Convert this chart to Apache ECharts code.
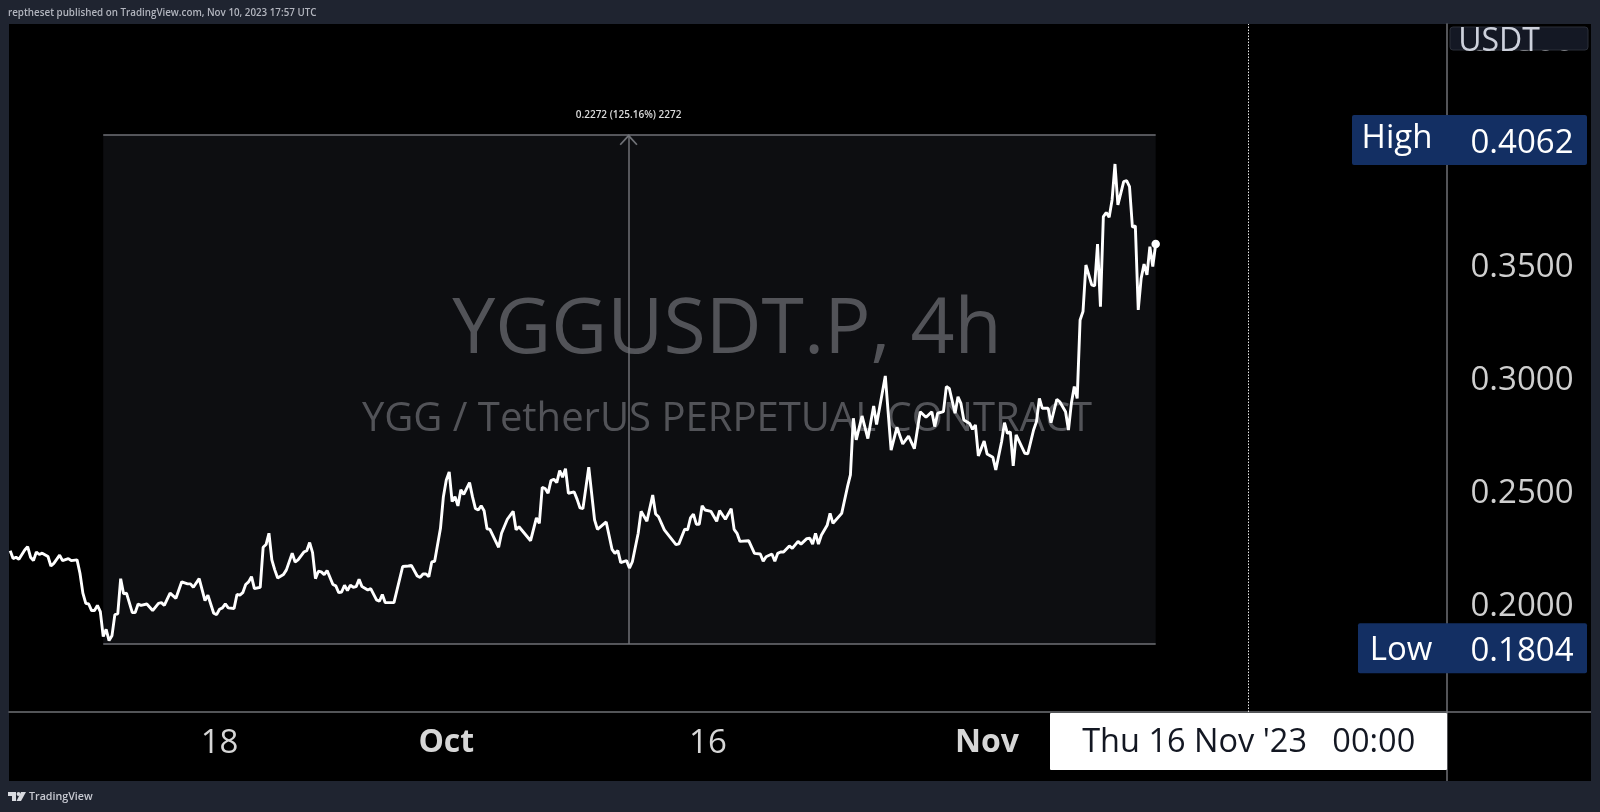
<!DOCTYPE html>
<html><head><meta charset="utf-8">
<style>html,body{margin:0;padding:0;background:#1f2430}#c{width:1600px;height:812px}</style>
<script src="https://cdn.jsdelivr.net/npm/echarts@6/dist/echarts.min.js"></script>
</head><body><div id="c"></div>
<script>
// 4h bars counted from firstBar
const firstBar = '2023-09-06T00:00:00Z';
const barHours = 4;
const barIndex = [0,1,2,3,5,6,7,8,9,10,11,13,14,15,17,18,20,21,23,24,25,26,27,28,29,30,31,32,33,34,35,36,37,38,39,40,42,43,44,45,47,49,51,52,53,55,57,59,61,62,63,65,67,68,70,71,72,73,74,75,77,78,79,80,81,82,83,84,86,87,88,89,90,91,92,94,95,97,98,99,101,102,103,104,105,106,107,108,109,111,112,113,114,115,116,117,118,119,120,121,123,124,126,127,128,129,132,135,137,138,140,141,142,143,144,145,146,
148,149,150,151,152,153,154,155,156,158,159,160,161,162,163,164,165,168,169,171,173,174,175,179,181,182,183,184,185,186,187,188,189,190,191,192,194,195,196,197,199,201,202,205,207,208,209,210,212,213,214,216,217,219,221,222,223,225,229,230,232,233,234,235,236,237,238,239,241,243,244,246,248,249,250,251,254,256,258,259,260,262,263,264,265,266,268,269,271,272,274,275,276,277,278,279,281,282,283,286,288,289,
290,291,293,295,297,298,301,303,305,307,309,311,313,315,317,318,319,321,322,323,325,326,327,328,330,331,332,333,335,336,338,339,341,342,343,344,345,346,349,350,352,353,354,355,357,358,360,361,363,364,365,366,367,
368,369,370,372,373,374,375,376,377,378,379,380,381,383,384,385,386,387,388,389,390,391,392,393,394];
const closes = [.2236,.2201,.2207,.2198,.2239,.2254,.2207,.2192,.2230,.2219,.2225,.2210,.2168,.2180,.2216,.2192,.2201,.2192,.2195,.2136,.2048,.2003,.2000,.1971,.1971,.1994,.1966,.1856,.1888,.1838,.1859,.1953,.1956,.2112,.2045,.2048,.1962,.1962,.2000,.1994,.2000,.1971,.2003,.2006,.1994,.2048,.2025,.2098,.2089,.2089,.2074,.2112,.2015,.2039,.1959,.1953,.1977,.1983,.2000,.1983,.1980,.2042,.2039,.2050,.2086,.2098,.2121,.2068,.2074,.2251,.2263,.2313,.2195,.2151,.2115,.2130,.2151,.2225,.2186,.2195,.2230,.2236,.2272,.2227,.2112,.2145,.2142,.2130,.2148,.2086,.2080,.2050,.2053,.2083,.2059,.2083,.2074,.2077,.2109,.2077,.2062,.2068,.2018,.2012,.2042,.2006,.2006,.2166,.2168,.2171,.2124,.2118,.2133,.2133,.2121,.2186,.2189,
.2335,.2475,.2549,.2584,.2453,.2475,.2434,.2505,.2485,.2537,.2475,.2423,.2416,.2435,.2413,.2333,.2330,.2251,.2313,.2375,.2410,.2328,.2342,.2280,.2381,.2357,.2516,.2511,.2490,.2546,.2552,.2537,.2590,.2561,.2599,.2490,.2496,.2463,.2425,.2422,.2605,.2372,.2330,.2363,.2242,.2224,.2236,.2183,.2192,.2159,.2187,.2313,.2410,.2366,.2482,.2398,.2386,.2328,.2263,.2266,.2331,.2328,.2381,.2398,.2353,.2353,.2435,.2416,.2410,.2366,.2413,.2375,.2422,.2330,.2313,.2277,.2280,.2224,.2221,.2189,.2209,.2221,.2189,.2224,.2230,.2230,.2257,.2246,.2277,.2265,.2289,.2291,.2265,.2313,.2265,.2304,.2348,.2401,.2357,.2401,.2519,.2571,
.2822,.2726,.2832,.2732,.2876,.2794,.3009,.2681,.2782,.2708,.2743,.2687,.2851,.2826,.2851,.2785,.2844,.2851,.2962,.2954,.2844,.2917,.2888,.2814,.2799,.2773,.2792,.2655,.2721,.2664,.2649,.2593,.2718,.2802,.2755,.2762,.2611,.2748,.2667,.2664,.2770,.2807,.2910,.2866,.2866,.2802,.2906,.2895,.2851,.2770,.2888,.2962,.2910,
.3257,.3294,.3500,.3412,.3407,.3593,.3316,.3714,.3732,.3711,.3788,.3947,.3766,.3869,.3873,.3847,.3667,.3673,.3301,.3441,.3504,.3456,.3581,.3493,.3593];
const priceTicks = [0.20,0.25,0.30,0.35,0.40,0.45];
const dateTicks = ['2023-09-18','2023-10-01','2023-10-16','2023-11-01'];
const dateLabels = ['18','Oct','16','Nov'];
const axisStartBar = -0.41, axisEndBar = 494.2;
const priceMin = 0.15221, priceMax = 0.45664;
const crosshairDate = '2023-11-16';
const crosshairLabel = "Thu 16 Nov '23   00:00";
const highValue = 0.4062, lowValue = 0.1804;
const measureBars = [32, 212.7, 394];
const measureRange = [0.1823, 0.4076];
const measureLabel = '0.2272 (125.16%) 2272';
const publishedText = 'reptheset published on TradingView.com, Nov 10, 2023 17:57 UTC';

const FONT = '"Open Sans","Noto Sans",sans-serif';
const t0 = Date.parse(firstBar);
const barOf = d => (Date.parse(d + 'T00:00:00Z') - t0) / (barHours * 3600000);
const series = barIndex.map((n, i) => [n, closes[i]]);
const last = series[series.length - 1];
const dateBars = dateTicks.map(barOf);
const crossBar = barOf(crosshairDate);
const txt = (x, y, text, o) => ({type:'text', x, y, z:o.z===undefined?20:o.z, silent:true, style:Object.assign({text, textAlign:'center', textVerticalAlign:'middle', font:'33px '+FONT, fill:'#fff'}, o.s||{})});

const chart = echarts.init(document.getElementById('c'), null, {renderer:'canvas'});
const grey = '#6f7176';
chart.setOption({
  animation:false,
  backgroundColor:'#1f2430',
  grid:{left:9, right:153, top:24, bottom:100, show:true, backgroundColor:'#000', borderWidth:0},
  xAxis:{type:'value', min:axisStartBar, max:axisEndBar,
    axisLine:{show:true, onZero:false, lineStyle:{color:grey, width:1.5}}, axisTick:{show:false}, splitLine:{show:false},
    axisLabel:{customValues:dateBars, hideOverlap:false, showMinLabel:true, showMaxLabel:true,
      margin:15, color:'#d6d6d6', fontFamily:FONT, fontSize:33,
      formatter:v=>{const s=dateLabels[dateBars.indexOf(v)]; return /\d/.test(s)?s:'{b|'+s+'}';},
      rich:{b:{fontWeight:'bold', color:'#d6d6d6', fontFamily:FONT, fontSize:32}}}},
  yAxis:{type:'value', position:'right', min:priceMin, max:priceMax, scale:true,
    axisLine:{show:true, onZero:false, lineStyle:{color:grey, width:1.5}}, axisTick:{show:false}, splitLine:{show:false},
    axisLabel:{customValues:priceTicks, margin:75, align:'center', color:'#cfcfcf', fontFamily:FONT, fontSize:33,
      formatter:v=>'{p|'+v.toFixed(4)+'}',
      rich:{p:{padding:[6,0,0,0], color:'#cfcfcf', fontFamily:FONT, fontSize:33}}}},
  series:[
    {type:'line', name:'YGGUSDT.P', data:series, showSymbol:false, symbol:'none', z:3,
     lineStyle:{color:'#fff', width:2.9}, 
     markArea:{silent:true, z:1, itemStyle:{color:'rgba(120,135,165,0.105)'},
       data:[[{coord:[measureBars[0],measureRange[1]]},{coord:[measureBars[2],measureRange[0]]}]]},
     markLine:{silent:true, z:1, animation:false, symbol:'none', precision:6,
       lineStyle:{color:grey, width:1.5, type:'solid'}, label:{show:false},
       data:[
        [{coord:[measureBars[0],measureRange[1]]},{coord:[measureBars[2],measureRange[1]]}],
        [{coord:[measureBars[0],measureRange[0]]},{coord:[measureBars[2],measureRange[0]]}],
        [{coord:[measureBars[1],measureRange[0]]},{coord:[measureBars[1],measureRange[1]],
           symbol:'path://M0,10 L10,0 L20,10 L18.6,11 L10,2.6 L1.4,11 Z', symbolSize:[18,11], symbolOffset:[0,5]}],
        {xAxis:crossBar, lineStyle:{color:'#e6e6e6', width:1, type:[1.5,1.5]}}
       ]}
    },
    {type:'scatter', name:'last', data:[last], symbolSize:8.5, itemStyle:{color:'#fff', opacity:1}, z:4, silent:true}
  ]
});

const y = v => chart.convertToPixel({yAxisIndex:0}, v);
const x = t => chart.convertToPixel({xAxisIndex:0}, t);
const hy = y(highValue), ly = y(lowValue), cx = x(crossBar), mx = x(measureBars[1]);
const navy = '#132f63';
const pill = (l, t, r, b, f) => ({type:'rect', z:15, silent:true, shape:{x:l, y:t, width:r-l, height:b-t, r:2}, style:{fill:f}});
chart.setOption({graphic:{elements:[
  txt(727, 331, 'YGGUSDT.P, 4h', {z:0, s:{font:'500 77px '+FONT, fill:'#4e4e50'}}),
  txt(727, 420, 'YGG / TetherUS PERPETUAL CONTRACT', {z:0, s:{font:'500 40px '+FONT, fill:'#4e4e50'}}),
  txt(mx, 115, measureLabel, {s:{font:'600 10px '+FONT, fill:'#dcdcdc'}}),
  // frame extensions
  {type:'rect', z:-1, silent:true, shape:{x:9, y:712, width:1582, height:69}, style:{fill:'#000'}},
  {type:'rect', z:-1, silent:true, shape:{x:1447, y:24, width:144, height:689}, style:{fill:'#000'}},
  {type:'line', z:10, silent:true, shape:{x1:1447, y1:712, x2:1447, y2:781}, style:{stroke:grey, lineWidth:1.5}},
  {type:'line', z:10, silent:true, shape:{x1:1447, y1:712, x2:1591, y2:712}, style:{stroke:grey, lineWidth:1.5}},
  // USDT button
  {type:'rect', z:15, silent:true, shape:{x:1450, y:27, width:138, height:23, r:3}, style:{fill:'#141824', stroke:'#2a2e39', lineWidth:1}},
  txt(1499, 42, 'USDT', {s:{font:'32px '+FONT, fill:'#cdd1dc'}}),
  // High / Low tags
  pill(1352, hy-23, 1587, hy+27, navy),
  txt(1397, hy+1, 'High', {s:{fill:'#fff'}}),
  txt(1522, hy+6, highValue.toFixed(4), {s:{fill:'#fff'}}),
  pill(1358, ly-25, 1587, ly+25, navy),
  txt(1401, ly+2, 'Low', {s:{fill:'#fff'}}),
  txt(1522, ly+3, lowValue.toFixed(4), {s:{fill:'#fff'}}),
  // crosshair date tag
  {type:'rect', z:15, silent:true, shape:{x:1050, y:713, width:397, height:57, r:1}, style:{fill:'#fff'}},
  txt(cx, 743, crosshairLabel, {s:{font:'32.5px '+FONT, fill:'#131722'}}),
  // header and footer
  {type:'text', x:8, y:13, z:20, silent:true, style:{text:publishedText, textVerticalAlign:'middle', font:'600 9.8px '+FONT, fill:'#b2b5be'}},
  {type:'text', x:29, y:797, z:20, silent:true, style:{text:'TradingView', textVerticalAlign:'middle', font:'600 10.7px '+FONT, fill:'#c8cad2'}},
  {type:'polygon', z:20, silent:true, shape:{points:[[8,792],[16,792],[16,801],[12,801],[12,796],[8,796]]}, style:{fill:'#d8dae0'}},
  {type:'circle', z:20, silent:true, shape:{cx:18.5, cy:794, r:1.9}, style:{fill:'#d8dae0'}},
  {type:'polygon', z:20, silent:true, shape:{points:[[21,792],[26,792],[21,801],[16.5,801]]}, style:{fill:'#d8dae0'}}
]}});
</script></body></html>
